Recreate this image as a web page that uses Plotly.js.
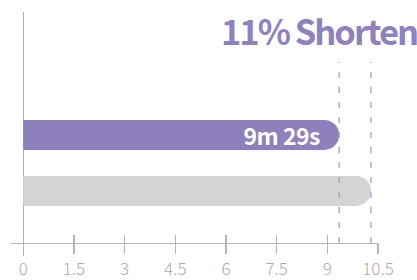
<!DOCTYPE html>
<html>
<head>
<meta charset="utf-8">
<script src="https://cdn.plot.ly/plotly-3.0.1.min.js"></script>
<style>
html,body{margin:0;padding:0;background:#fff;}
#chart{width:417px;height:280px;}
.annotation[data-index="1"] text{letter-spacing:-2px;}
.annotation[data-index="0"] text{letter-spacing:-0.5px;}
</style>
</head>
<body>
<div id="chart"></div>
<script>
// Data
var categories = ["Before", "After"];
var values = [10.29, 9.35];
var barColors = ["#d3d5d4", "#8e80bc"];
var valueLabels = ["", "9m 29s"];
var headline = "11% Shorten";
var tickVals = [0, 1.5, 3, 4.5, 6, 7.5, 9, 10.5];
var tickText = ["0", "1.5", "3", "4.5", "6", "7.5", "9", "10.5"];

var FONT = '"Noto Sans CJK JP", "Noto Sans", sans-serif';
var axisColor = "#b4b4b4";
var axisPos = 0.053;

var capTrace = {
  type: "bar", orientation: "h",
  y: categories,
  x: values.map(function(v){ return 1; }),
  base: values.map(function(v){ return v - 1; }),
  width: 0.536,
  marker: {color: barColors, cornerradius: 15, line: {width: 0}},
  hoverinfo: "skip", showlegend: false
};
var bodyTrace = {
  type: "bar", orientation: "h",
  y: categories,
  x: values.map(function(v){ return v - 0.5; }),
  base: values.map(function(v){ return 0; }),
  width: 0.536,
  marker: {color: barColors, line: {width: 0}},
  hoverinfo: "skip", showlegend: false
};
var helper = {type: "scatter", x: [], y: [], xaxis: "x2", yaxis: "y", showlegend: false, hoverinfo: "skip"};

var annotations = [];
categories.forEach(function(c, i){
  if (valueLabels[i]) {
    annotations.push({
      x: values[i], y: c, xref: "x", yref: "y",
      text: valueLabels[i], showarrow: false,
      xanchor: "right", yanchor: "middle", xshift: -15, yshift: 0,
      font: {family: FONT, size: 23, color: "#ffffff", weight: 700}
    });
  }
});
annotations.push({
  x: 1.1017, y: 0.925, xref: "paper", yref: "paper",
  text: headline, showarrow: false,
  xanchor: "right", yanchor: "middle", xshift: 15,
  font: {family: FONT, size: 34.5, color: "#8f80bf", weight: 700}
});

var shapes = values.map(function(v){
  return {
    type: "line", xref: "x", yref: "paper",
    x0: v, x1: v, y0: axisPos, y1: 0.795,
    line: {color: "#a59dd0", width: 1.3, dash: "6px,9px"}
  };
});

var layout = {
  width: 417, height: 280,
  margin: {l: 11, r: 39.3, t: 12, b: 24, pad: 0},
  paper_bgcolor: "#ffffff", plot_bgcolor: "#ffffff",
  barmode: "overlay",
  showlegend: false,
  xaxis: {
    range: [-0.364, 10.5], fixedrange: true,
    tickmode: "array", tickvals: tickVals, ticktext: tickText,
    ticks: "outside", ticklen: 10, tickwidth: 1.3, tickcolor: axisColor,
    showline: true, linecolor: axisColor, linewidth: 1.3,
    showgrid: false,
    zeroline: true, zerolinecolor: "#b0b0b0", zerolinewidth: 1.6,
    anchor: "free", position: axisPos,
    tickfont: {family: FONT, size: 17, color: "#ababab", weight: 300}
  },
  xaxis2: {
    overlaying: "x", matches: "x",
    range: [-0.364, 10.5],
    tickmode: "array", tickvals: tickVals,
    ticks: "inside", ticklen: 8, tickwidth: 1.3, tickcolor: axisColor,
    showticklabels: false, showline: false, showgrid: false, zeroline: false,
    anchor: "free", position: axisPos
  },
  yaxis: {
    type: "category", categoryorder: "array", categoryarray: categories,
    range: [-1.161, 3.196], fixedrange: true,
    showticklabels: false, ticks: "", showgrid: false, zeroline: false, showline: false
  },
  annotations: annotations,
  shapes: shapes
};

Plotly.newPlot("chart", [capTrace, bodyTrace, helper], layout, {displayModeBar: false, staticPlot: true});
</script>
</body>
</html>
